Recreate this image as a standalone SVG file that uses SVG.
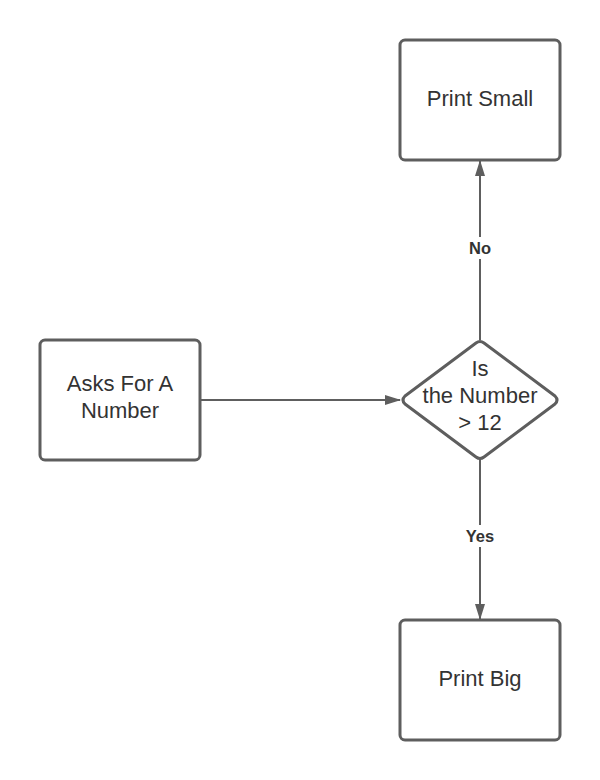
<svg xmlns="http://www.w3.org/2000/svg" width="600" height="780" viewBox="0 0 600 780">
<style>
.box{fill:#fff;stroke:#5e5e5e;stroke-width:3}
.t{font-family:"Liberation Sans",Arial,sans-serif;font-size:22px;fill:#333;text-anchor:middle}
.lbl{font-family:"Liberation Sans",Arial,sans-serif;font-size:16.5px;font-weight:bold;fill:#333;text-anchor:middle}
.c{stroke:#5e5e5e;stroke-width:2;fill:none}
</style>
<defs>
<marker id="ah" markerWidth="16" markerHeight="12" refX="15" refY="6" orient="auto" markerUnits="userSpaceOnUse">
<path d="M0,1 L16,6 L0,11 Z" fill="#5e5e5e"/>
</marker>
</defs>
<rect width="600" height="780" fill="#fff"/>
<g id="connectors">
<line class="c" x1="201" y1="400" x2="400" y2="400" marker-end="url(#ah)"/>
<line class="c" x1="480" y1="340" x2="480" y2="161" marker-end="url(#ah)"/>
<line class="c" x1="480" y1="459" x2="480" y2="619" marker-end="url(#ah)"/>
<rect x="464" y="237" width="32" height="22" fill="#fff"/>
<text class="lbl" x="480" y="254">No</text>
<rect x="460" y="525" width="40" height="22" fill="#fff"/>
<text class="lbl" x="480" y="542">Yes</text>
</g>
<g id="asks">
<rect class="box" x="40" y="340" width="160" height="120" rx="5"/>
<text class="t" x="120" y="391">Asks For A</text>
<text class="t" x="120" y="418">Number</text>
</g>
<g id="decision">
<path class="box" stroke-linejoin="round" d="M476,343 Q480,340 484,343 L555,396 Q559,400 555,404 L484,457 Q480,460 476,457 L405,404 Q401,400 405,396 Z"/>
<text class="t" x="480" y="376">Is</text>
<text class="t" x="480" y="403">the Number</text>
<text class="t" x="480" y="430">&gt; 12</text>
</g>
<g id="small">
<rect class="box" x="400" y="40" width="160" height="120" rx="5"/>
<text class="t" x="480" y="106">Print Small</text>
</g>
<g id="big">
<rect class="box" x="400" y="620" width="160" height="120" rx="5"/>
<text class="t" x="480" y="686">Print Big</text>
</g>
</svg>
